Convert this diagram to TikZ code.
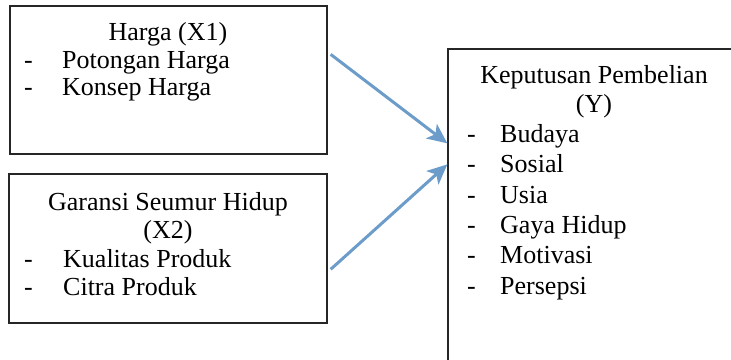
\documentclass[tikz,border=0pt]{standalone}
\usepackage{fontspec}
\setmainfont{Liberation Serif}
\usepackage{tikz}
\usetikzlibrary{positioning, arrows.meta, calc}
\usepackage{xcolor}
\definecolor{panahbiru}{HTML}{6C9CC9}
\tikzset{every node/.append style={inner sep=0pt}}
\tikzset{kotak/.style={draw=black!85, line width=1.3pt},
  judul/.style={anchor=base},
  butir/.style={anchor=base west},
  panah/.style={draw=panahbiru, line width=3pt, -{Stealth[length=20pt,width=18pt,inset=5pt]}}}

\begin{document}
\begin{tikzpicture}[x=1pt, y=-1pt, font=\fontsize{26}{30}\selectfont]
  \useasboundingbox (0,0) rectangle (731,359);
  \clip (0,0) rectangle (731,359);
  \node[kotak, minimum width=317pt, minimum height=148pt] (hargaBox) at (168.5,80) {};
  \node[judul] (hargaJudul) at (168,40) {Harga (X1)};
  \node[butir] (hargaD1) at (24,68) {-};
  \node[butir] (hargaB1) at (62,68) {Potongan Harga};
  \node[butir] (hargaD2) at (24,95) {-};
  \node[butir] (hargaB2) at (62,95) {Konsep Harga};
  \node[kotak, minimum width=318pt, minimum height=149pt] (garansiBox) at (168,248.5) {};
  \node[judul] (garansiJudul) at (168,210) {Garansi Seumur Hidup};
  \node[judul] (garansiKode) at (168,238) {(X2)};
  \node[butir] (garansiD1) at (24,267) {-};
  \node[butir] (garansiB1) at (63,267) {Kualitas Produk};
  \node[butir] (garansiD2) at (24,295) {-};
  \node[butir] (garansiB2) at (63,295) {Citra Produk};
  \node[kotak, minimum width=312pt, minimum height=351pt] (keputusanBox) at (604,224.5) {};
  \node[judul] (keputusanJudul) at (594,83) {Keputusan Pembelian};
  \node[judul] (keputusanKode) at (594,112) {(Y)};
  \node[butir] (keputusanD1) at (467,142) {-};
  \node[butir] (keputusanB1) at (500,142) {Budaya};
  \node[butir] (keputusanD2) at (467,172) {-};
  \node[butir] (keputusanB2) at (500,172) {Sosial};
  \node[butir] (keputusanD3) at (467,203) {-};
  \node[butir] (keputusanB3) at (500,203) {Usia};
  \node[butir] (keputusanD4) at (467,233) {-};
  \node[butir] (keputusanB4) at (500,233) {Gaya Hidup};
  \node[butir] (keputusanD5) at (467,263) {-};
  \node[butir] (keputusanB5) at (500,263) {Motivasi};
  \node[butir] (keputusanD6) at (467,294) {-};
  \node[butir] (keputusanB6) at (500,294) {Persepsi};
  \draw[panah] ([xshift=3pt,yshift=-49pt]hargaBox.north east) -- ([yshift=-95pt]keputusanBox.north west);
  \draw[panah] ([xshift=3pt,yshift=-96pt]garansiBox.north east) -- ([yshift=-116pt]keputusanBox.north west);
\end{tikzpicture}
\end{document}
